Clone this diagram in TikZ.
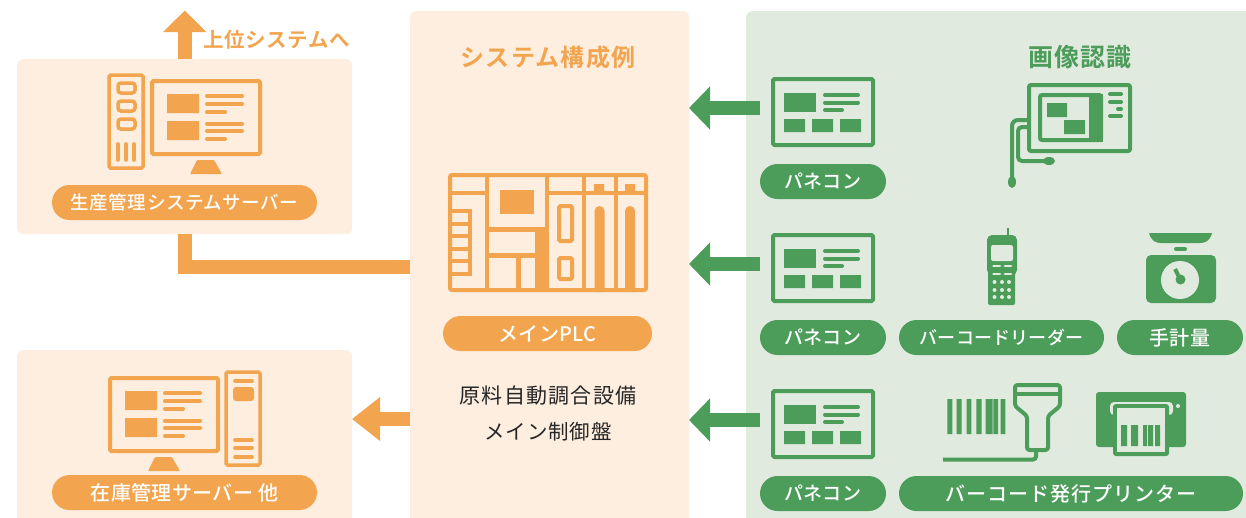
\documentclass[tikz,border=0pt]{standalone}
\usepackage{fontspec}
\setmainfont{Noto Sans CJK JP}
\usetikzlibrary{arrows.meta}
\definecolor{og}{HTML}{F2A44E}
\definecolor{ogl}{HTML}{FDEEDF}
\definecolor{gr}{HTML}{4C9C5A}
\definecolor{grl}{HTML}{E0EADF}
\newfontfamily\pillfont{Noto Sans CJK JP Medium}
\newfontfamily\bodyfont{Noto Sans CJK JP}
\newfontfamily\headfont[LetterSpace=5]{Noto Sans CJK JP Bold}
\newcommand{\ls}[1]{\addfontfeature{LetterSpace=#1}}
\newcommand{\fs}[1]{\fontsize{#1}{#1}\selectfont}
\tikzset{
  x=1pt,y=-1pt,
  panelbox/.style={rounded corners=6pt,inner sep=0pt,anchor=north west},
  orangepanel/.style={panelbox,fill=ogl},
  greenpanel/.style={panelbox,fill=grl},
  pill/.style={rounded corners=17.5pt,inner sep=0pt,minimum height=35pt,text=white,font=\pillfont},
  ogpill/.style={pill,fill=og},
  grpill/.style={pill,fill=gr},
  ogconn/.style={draw=og,line width=14pt},
  grconn/.style={draw=gr,line width=14pt},
  ln/.style={line width=3.6pt,line cap=round,line join=round},
  thin ln/.style={line width=4pt,line cap=round},
  panelicon/.pic={
    \draw[draw=gr,line width=4pt,rounded corners=1.5pt] (0,0) rectangle (100,66);
    \fill[gr] (11,14) rectangle (43,33);
    \draw[draw=gr,thin ln] (52,16)--(85,16) (52,23.5)--(85,23.5) (52,31)--(69,31);
    \fill[gr] (11,40) rectangle (32,53) (39,40) rectangle (60,53) (67,40) rectangle (88,53);
  },
  monitoricon/.pic={
    \draw[draw=og,line width=4pt,rounded corners=1.5pt] (2,2) rectangle (110,75);
    \fill[og] (17,15) rectangle (49,34) (17,42) rectangle (49,61);
    \draw[draw=og,thin ln] (57,17)--(92,17) (57,25)--(92,25) (57,33)--(75,33)
      (57,44.5)--(92,44.5) (57,52)--(92,52) (57,60)--(75,60);
    \fill[og,rounded corners=1pt] (47,81)--(64,81)--(72,95)--(40,95)--cycle;
  }
}
\begin{document}
\begin{tikzpicture}
\useasboundingbox (0,0) rectangle (1246,517);
\clip (0,0) rectangle (1246,517);
% panels
\node[orangepanel,minimum width=335pt,minimum height=175pt] (srvA) at (17,59) {};
\node[orangepanel,minimum width=335pt,minimum height=190pt] (srvB) at (17,350) {};
\node[orangepanel,minimum width=279pt,minimum height=530pt] (plc) at (410,11) {};
\node[greenpanel,minimum width=520pt,minimum height=530pt] (field) at (746,11) {};
% connectors
\coordinate (upTip) at (184.75,10.5);
\coordinate (srvBTip) at (352,419);
\coordinate (tipA) at (689,108);
\coordinate (tipB) at (689,264);
\coordinate (tipC) at (689,420);
\coordinate (startA) at (760,108);
\coordinate (startB) at (760,264);
\coordinate (startC) at (760,420);
\draw[ogconn,-{Triangle[length=21.5pt,width=42pt]}] (184.75,0 |- srvA.north) -- (upTip);
\draw[ogconn] (184.75,0 |- srvA.south) -- (184.75,267) -- (plc.west |- 0,267);
\draw[ogconn,-{Triangle[length=28pt,width=42pt]}] (plc.west |- srvBTip) -- (srvBTip);
\draw[grconn,-{Triangle[length=21pt,width=42pt]}] (startA) -- (tipA);
\draw[grconn,-{Triangle[length=21pt,width=42pt]}] (startB) -- (tipB);
\draw[grconn,-{Triangle[length=21pt,width=42pt]}] (startC) -- (tipC);
% titles
\node[text=og,font=\headfont\fontsize{20.5}{20}\selectfont] (upLabel) at (276.5,40) {\ls{3}上位システムへ};
\node[text=og,font=\headfont\fontsize{24}{24}\selectfont] (plcTitle) at (548,57) {\ls{5}システム構成例};
\node[text=gr,font=\headfont\fontsize{25}{25}\selectfont] (fieldTitle) at (1080,57) {\ls{5}画像認識};
\node[text=black!85,font=\bodyfont\fs{21}] (t1) at (548,396) {\ls{6}原料自動調合設備};
\node[text=black!85,font=\bodyfont\fs{20.5}] (t2) at (548,432) {\ls{4}メイン制御盤};
% pills
\node[ogpill,minimum width=265pt] (pSrvA) at (184.5,202.5) {\fs{18.5}\ls{3}生産管理システムサーバー};
\node[ogpill,minimum width=265pt] (pSrvB) at (184.5,492.5) {\fs{20}\ls{2}在庫管理サーバー 他};
\node[ogpill,minimum width=209pt] (pPlc) at (547.5,333.5) {\fs{20}\ls{2}メインPLC};
\node[grpill,minimum width=126pt] (pA) at (823,181.5) {\fs{19}\ls{2}パネコン};
\node[grpill,minimum width=126pt] (pB) at (823,337.5) {\fs{19}\ls{2}パネコン};
\node[grpill,minimum width=126pt] (pC) at (823,493.5) {\fs{19}\ls{2}パネコン};
\node[grpill,minimum width=205pt] (pReader) at (1001.5,337.5) {\fs{18}\ls{1}バーコードリーダー};
\node[grpill,minimum width=126pt] (pScale) at (1180,337.5) {\fs{20}\ls{4}手計量};
\node[grpill,minimum width=344pt] (pPrinter) at (1071,493.5) {\fs{20}\ls{5}バーコード発行プリンター};
% panel icons
\pic at (773,79) {panelicon};
\pic at (773,235) {panelicon};
\pic at (773,391) {panelicon};
% server A
\pic at (150,79) {monitoricon};
\draw[draw=og,line width=3.5pt,rounded corners=1.5pt] (109,75) rectangle (143,168);
\foreach \y in {83,101,119}{\draw[draw=og,line width=3.5pt,rounded corners=3pt] (118,\y) rectangle (135,\y+10);}
\draw[draw=og,ln] (118,144)--(118,160) (126,144)--(126,160) (134,144)--(134,160);
% server B
\pic at (108,376) {monitoricon};
\draw[draw=og,line width=3.5pt,rounded corners=1.5pt] (226,372) rectangle (260,465);
\draw[draw=og,ln] (235,381)--(252,381) (235,440)--(252,440) (235,448)--(252,448) (235,457)--(252,457);
\fill[og,rounded corners=3pt] (233,387) rectangle (254,401);
% PLC
\begin{scope}[draw=og,line width=4pt]
\draw[rounded corners=2pt] (450,175) rectangle (646,290);
\draw (487,175)--(487,290) (547,175)--(547,290) (584,175)--(584,290) (615.5,175)--(615.5,290);
\draw (450,193)--(487,193) (547,193)--(646,193);
\draw (452,211)--(470,211)--(470,273.5)--(452,273.5) (452,223.7)--(470,223.7) (452,236.3)--(470,236.3) (452,248.7)--(470,248.7) (452,261.3)--(470,261.3);
\fill[og] (500,190) rectangle (534.3,214);
\draw[line width=5pt] (487,229.5)--(547,229.5) (487,255.5)--(547,255.5) (518.5,255.5)--(518.5,290);
\fill[og] (535,229) rectangle (547,290);
\draw[rounded corners=1.5pt] (559,206) rectangle (572,241);
\draw[rounded corners=1.5pt] (559,258) rectangle (572,279);
\fill[og] (594,184) rectangle (604,193) (625,184) rectangle (635,193);
\fill[og] (594.5,292)--(594.5,211) arc[start angle=180,end angle=360,radius=5]--(604.5,292)--cycle;
\fill[og] (625,292)--(625,211) arc[start angle=180,end angle=360,radius=5]--(635,292)--cycle;
\end{scope}
% vision panel
\draw[draw=gr,line width=4pt,rounded corners=2pt] (1029,85) rectangle (1130,151);
\draw[draw=gr,line width=4pt,rounded corners=2pt] (1040,95) rectangle (1101,140);
\fill[gr] (1089,94) rectangle (1103,142);
\fill[gr] (1047,103) rectangle (1067,117) (1064,120) rectangle (1085,134);
\draw[draw=gr,thin ln] (1110,94)--(1121,94) (1110,102)--(1121,102) (1118,109)--(1121,109) (1110,116)--(1121,116);
\draw[draw=gr,line width=4pt,rounded corners=6pt] (1029,120)--(1012,120)--(1012,180);
\draw[draw=gr,line width=4pt,rounded corners=4pt] (1029,127)--(1018,127)--(1018,161)--(1048,161);
\fill[gr] (1012,182) ellipse[x radius=4,y radius=6];
\fill[gr] (1049,161) ellipse[x radius=6,y radius=4];
% handy reader
\draw[draw=gr,line width=2.5pt] (1008,228)--(1008,238);
\fill[gr,rounded corners=5pt] (987,235) rectangle (1017,275);
\fill[gr,rounded corners=2pt] (988,262) rectangle (1015,305);
\fill[grl,rounded corners=2pt] (991,245) rectangle (1013,261);
\draw[draw=grl,line width=2.8pt,line cap=round] (993.5,266)--(1000,266) (1005,266)--(1011,266) (993.5,274)--(1000,274) (1005,274)--(1011,274);
\foreach \y in {282,290,297}{\foreach \x in {994.5,1002,1009}{\fill[grl] (\x,\y) circle[radius=2];}}
% scale
\fill[gr] (1149,233)--(1212,233) .. controls (1210,241) and (1205,243) .. (1200,243)--(1161,243) .. controls (1156,243) and (1151,241) .. (1149,233)--cycle;
\draw[draw=gr,thin ln] (1176,249)--(1185,249);
\fill[gr,rounded corners=5pt] (1146,255) rectangle (1216,303);
\fill[grl] (1180,280) circle[radius=19];
\draw[draw=gr,line width=4pt] (1175,269)--(1180,279);
\fill[gr] (1180.5,279.5) circle[radius=5];
% barcode + scanner
\fill[gr] (947.3,399) rectangle (952.3,434) (956.7,399) rectangle (961.7,434) (966.7,399) rectangle (971.3,434) (976.3,399) rectangle (981.7,434) (985.7,399) rectangle (992.7,434) (993.3,399) rectangle (998,434) (1000.7,399) rectangle (1005.3,434);
\draw[draw=gr,line width=4pt,rounded corners=2.5pt,line join=round] (1015,385)--(1060,385)--(1060,406)--(1048,416)--(1048,450)--(1027,450)--(1027,416)--(1015,406)--cycle;
\draw[draw=gr,line width=4pt] (1015,394)--(1060,394);
\draw[draw=gr,line width=4pt,rounded corners=3pt] (943,459.5)--(1036,459.5)--(1036,450);
% printer
\fill[gr,rounded corners=3pt] (1096,392) rectangle (1186,447);
\fill[grl,rounded corners=4pt] (1110,402) rectangle (1173,415);
\fill[gr,rounded corners=3pt] (1113,404) rectangle (1169,456);
\fill[grl] (1117,408) rectangle (1165,452);
\fill[gr] (1121,425) rectangle (1127,446) (1131,425) rectangle (1138,446) (1143,425) rectangle (1147,446) (1148,425) rectangle (1153,446) (1155,425) rectangle (1160,446);
\fill[grl] (1178,406) circle[radius=2];
\end{tikzpicture}
\end{document}
